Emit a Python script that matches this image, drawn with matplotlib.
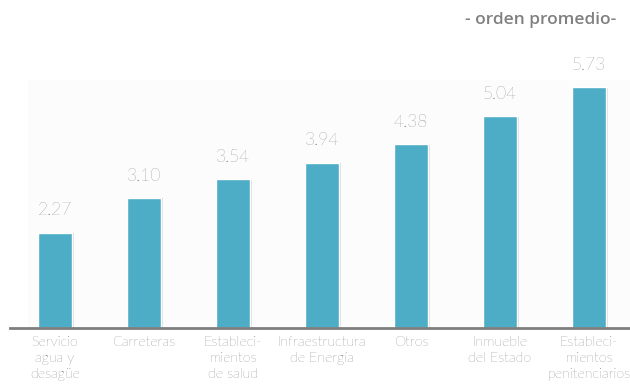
import matplotlib.pyplot as plt
import matplotlib.patheffects as pe
from matplotlib.patches import Rectangle

# categories and average order values
categorias = [
    "Servicio\nagua y\ndesagüe",
    "Carreteras",
    "Estableci-\nmientos\nde salud",
    "Infraestructura\nde Energía",
    "Otros",
    "Inmueble\ndel Estado",
    "Estableci-\nmientos\npenitenciarios",
]
valores = [2.27, 3.10, 3.54, 3.94, 4.38, 5.04, 5.73]
etiquetas = ["2.27", "3.10", "3.54", "3.94", "4.38", "5.04", "5.73"]

color_barra = "#4eadc6"
gris = "#7f7f7f"

fig = plt.figure(figsize=(6.3, 3.86), dpi=100)
W, H = 630, 386

ax = fig.add_axes([10 / W, (H - 328) / H, (630 - 10) / W, (328 - 80) / H])
ax.patch.set_alpha(0)

# very light plot-area background behind the bars
ax.add_patch(Rectangle((18 / 620, 0), 1 - 18 / 620, 1, transform=ax.transAxes,
                       facecolor="#fcfcfc", edgecolor="none", zorder=0))

x = list(range(len(valores)))
barras = ax.bar(x, valores, width=0.38, color=color_barra, edgecolor="white",
                linewidth=1.0, zorder=3)
for b in barras:
    b.set_path_effects([pe.SimplePatchShadow(offset=(1.5, -0.5), shadow_rgbFace="#000000",
                                             alpha=0.12), pe.Normal()])

for xi, v, t in zip(x, valores, etiquetas):
    ax.text(xi, v + 0.34, t, ha="center", va="bottom", fontsize=12.5,
            color="#505050", fontfamily="Lato", fontweight="light", clip_on=False)

ax.set_xlim((10 - 55) / 89, (630 - 55) / 89)
ax.set_ylim(0, (328 - 80) / 42)

for s in ["top", "right", "left"]:
    ax.spines[s].set_visible(False)
ax.spines["bottom"].set_color(gris)
ax.spines["bottom"].set_linewidth(2)
ax.spines["bottom"].set_zorder(4)

ax.set_yticks([])
ax.set_xticks(x)
ax.set_xticklabels(categorias, fontsize=10.3, color="#3a3a3a", fontfamily="Lato",
                   fontweight="light", linespacing=1.28)
ax.tick_params(axis="x", length=0, pad=6)

fig.text(616 / W, 1 - 20 / H, "- orden promedio-", ha="right", va="center",
         fontsize=12.5, color="#808080", fontfamily="Open Sans", fontweight="semibold")

fig.savefig("out.png", dpi=100)
